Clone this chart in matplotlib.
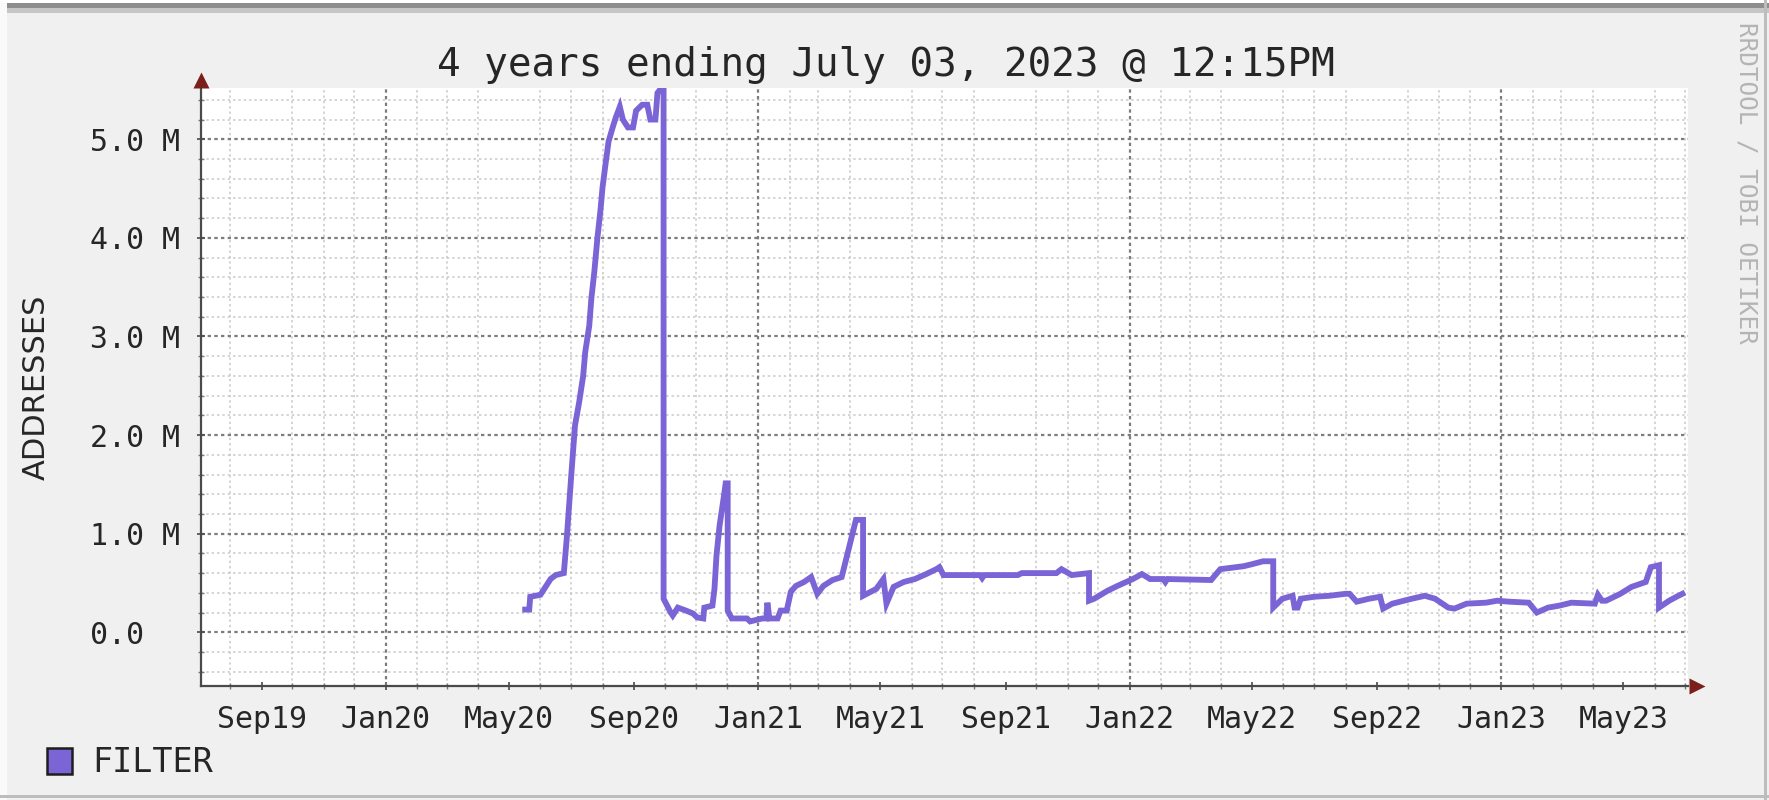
import matplotlib
matplotlib.use("Agg")
import matplotlib.pyplot as plt
import matplotlib.dates as mdates
from matplotlib.patches import Rectangle, Patch
from matplotlib.ticker import MultipleLocator, FixedLocator
import numpy as np

# FILTER series (millions of addresses)
dates = [
    "2020-05-17", "2020-05-21", "2020-05-22", "2020-06-01", "2020-06-06", "2020-06-11",
    "2020-06-16", "2020-06-24", "2020-06-27", "2020-07-01", "2020-07-05", "2020-07-09",
    "2020-07-13", "2020-07-15", "2020-07-19", "2020-07-21", "2020-07-24", "2020-07-27",
    "2020-07-30", "2020-08-01", "2020-08-04", "2020-08-07", "2020-08-11", "2020-08-14",
    "2020-08-18", "2020-08-21", "2020-08-26", "2020-08-31", "2020-09-03", "2020-09-09",
    "2020-09-14", "2020-09-17", "2020-09-22", "2020-09-24", "2020-09-27", "2020-09-30",
    "2020-09-30", "2020-10-02", "2020-10-07", "2020-10-09", "2020-10-14", "2020-10-22",
    "2020-10-29", "2020-11-02", "2020-11-08", "2020-11-09", "2020-11-17", "2020-11-19",
    "2020-11-21", "2020-11-24", "2020-11-28", "2020-11-30", "2020-12-02", "2020-12-02",
    "2020-12-06", "2020-12-21", "2020-12-24", "2021-01-05", "2021-01-09", "2021-01-10",
    "2021-01-12", "2021-01-20", "2021-01-23", "2021-01-29", "2021-02-02", "2021-02-07",
    "2021-02-15", "2021-02-22", "2021-02-28", "2021-03-06", "2021-03-15", "2021-03-24",
    "2021-03-30", "2021-04-07", "2021-04-14", "2021-04-14", "2021-04-27", "2021-05-04",
    "2021-05-07", "2021-05-14", "2021-05-24", "2021-06-04", "2021-06-15", "2021-06-25",
    "2021-06-28", "2021-07-02", "2021-08-07", "2021-08-09", "2021-08-11", "2021-09-13",
    "2021-09-17", "2021-10-21", "2021-10-26", "2021-11-05", "2021-11-22", "2021-11-22",
    "2021-11-27", "2021-12-10", "2021-12-20", "2022-01-04", "2022-01-13", "2022-01-21",
    "2022-02-03", "2022-02-05", "2022-02-07", "2022-03-22", "2022-03-31", "2022-04-15",
    "2022-04-23", "2022-05-01", "2022-05-12", "2022-05-22", "2022-05-22", "2022-05-31",
    "2022-06-10", "2022-06-12", "2022-06-15", "2022-06-18", "2022-07-01", "2022-07-16",
    "2022-08-01", "2022-08-05", "2022-08-12", "2022-08-24", "2022-09-04", "2022-09-07",
    "2022-09-16", "2022-10-05", "2022-10-18", "2022-10-28", "2022-11-10", "2022-11-16",
    "2022-11-28", "2022-12-17", "2022-12-28", "2023-01-09", "2023-01-28", "2023-02-05",
    "2023-02-16", "2023-02-27", "2023-03-11", "2023-04-03", "2023-04-06", "2023-04-10",
    "2023-04-14", "2023-04-28", "2023-05-09", "2023-05-23", "2023-05-28", "2023-06-05",
    "2023-06-05", "2023-06-15", "2023-06-24", "2023-06-28",
]
filter_m = [
    0.23, 0.23, 0.36, 0.38, 0.46, 0.54,
    0.58, 0.60, 0.97, 1.55, 2.10, 2.33,
    2.60, 2.84, 3.11, 3.38, 3.66, 4.00,
    4.28, 4.51, 4.75, 4.98, 5.12, 5.22,
    5.33, 5.20, 5.12, 5.12, 5.29, 5.35,
    5.35, 5.20, 5.20, 5.47, 5.51, 5.51,
    0.34, 0.30, 0.20, 0.17, 0.25, 0.22,
    0.19, 0.15, 0.14, 0.25, 0.27, 0.44,
    0.78, 1.08, 1.36, 1.51, 1.51, 0.22,
    0.14, 0.14, 0.11, 0.14, 0.14, 0.30,
    0.14, 0.14, 0.22, 0.22, 0.41, 0.47,
    0.51, 0.56, 0.39, 0.47, 0.53, 0.56,
    0.81, 1.14, 1.14, 0.37, 0.44, 0.54,
    0.29, 0.46, 0.51, 0.54, 0.59, 0.64,
    0.66, 0.58, 0.58, 0.55, 0.58, 0.58,
    0.60, 0.60, 0.64, 0.58, 0.60, 0.32,
    0.34, 0.42, 0.47, 0.54, 0.59, 0.54,
    0.54, 0.51, 0.54, 0.53, 0.64, 0.66,
    0.67, 0.69, 0.72, 0.72, 0.25, 0.34,
    0.37, 0.25, 0.25, 0.34, 0.36, 0.37,
    0.39, 0.39, 0.31, 0.34, 0.36, 0.24,
    0.29, 0.34, 0.37, 0.34, 0.25, 0.24,
    0.29, 0.30, 0.32, 0.31, 0.30, 0.20,
    0.25, 0.27, 0.30, 0.29, 0.38, 0.32,
    0.32, 0.39, 0.46, 0.51, 0.66, 0.68,
    0.25, 0.32, 0.37, 0.39,
]
y_ticks = [0, 1, 2, 3, 4, 5]
y_labels = ["0.0", "1.0 M", "2.0 M", "3.0 M", "4.0 M", "5.0 M"]
year_lines = ["2020-01-01", "2021-01-01", "2022-01-01", "2023-01-01"]
title = "4 years ending July 03, 2023 @ 12:15PM"
start = np.datetime64("2019-07-03T12:15")
end = np.datetime64("2023-07-03T12:15")

MONO = "DejaVu Sans Mono"
SANS = "DejaVu Sans"
W, H = 1769, 800
line_col = "#7b64d6"
txt_col = "#262626"

fig = plt.figure(figsize=(W / 100, H / 100), dpi=100)
fig.patch.set_facecolor("#f0f0f0")

# rrdtool-like frame
fig.patches.append(Rectangle((0, 1 - 3 / H), 1, 3 / H, transform=fig.transFigure, fc="#ffffff", ec="none"))
fig.patches.append(Rectangle((0, 1 - 8 / H), 1, 5 / H, transform=fig.transFigure, fc="#8e8e8e", ec="none"))
fig.patches.append(Rectangle((0, 1 - 13 / H), 1, 5 / H, transform=fig.transFigure, fc="#c6c6c6", ec="none"))
fig.patches.append(Rectangle((0, 0), 7 / W, 1 - 3 / H, transform=fig.transFigure, fc="#fafafa", ec="none"))
fig.patches.append(Rectangle((1764 / W, 0), 3 / W, 1, transform=fig.transFigure, fc="#bdbdbd", ec="none"))
fig.patches.append(Rectangle((0, 2 / H), 1, 3 / H, transform=fig.transFigure, fc="#bdbdbd", ec="none"))

ax_l, ax_r = 201 / W, 1688 / W
ax_b, ax_t = (H - 686) / H, (H - 88) / H
ax = fig.add_axes([ax_l, ax_b, ax_r - ax_l, ax_t - ax_b])
ax.set_facecolor("white")

x = np.array(dates, dtype="datetime64[D]")
ax.plot(x, filter_m, color=line_col, lw=4.2, solid_joinstyle="miter", zorder=5)

ax.set_xlim(start, end)
ax.set_ylim(-0.545, 5.52)

# x axis: monthly minor grid, labels every 4 months, dark lines on years
ax.xaxis.set_major_locator(mdates.MonthLocator(bymonth=[1, 5, 9]))
ax.xaxis.set_major_formatter(mdates.DateFormatter("%b%y"))
ax.xaxis.set_minor_locator(mdates.MonthLocator())
ax.yaxis.set_major_locator(FixedLocator(y_ticks))
ax.set_yticklabels(y_labels)
ax.yaxis.set_minor_locator(MultipleLocator(0.2))

minor_ls = (0, (1.5, 2.0))
major_ls = (0, (1.5, 1.5))
ax.grid(which="minor", axis="both", color="#c8c8c8", lw=1.1, ls=minor_ls)
ax.grid(which="major", axis="y", color="#7c7c7c", lw=1.6, ls=major_ls)
ax.grid(which="major", axis="x", visible=False)
for d in year_lines:
    ax.axvline(np.datetime64(d), color="#7c7c7c", lw=1.6, ls=major_ls, zorder=1)
ax.set_axisbelow(True)

for s in ["top", "right"]:
    ax.spines[s].set_visible(False)
for s in ["left", "bottom"]:
    ax.spines[s].set_color("#4a4a4a")
    ax.spines[s].set_linewidth(1.6)

ax.tick_params(axis="x", which="major", direction="inout", length=6, width=1.2,
               color="#4a4a4a", pad=11, labelsize=21.5, labelcolor=txt_col)
ax.tick_params(axis="x", which="minor", direction="inout", length=4, width=1.0, color="#7a7a7a")
ax.tick_params(axis="y", which="major", direction="inout", length=6, width=1.2,
               color="#4a4a4a", pad=77, labelsize=21.5, labelcolor=txt_col)
ax.tick_params(axis="y", which="minor", direction="inout", length=4, width=1.0, color="#7a7a7a")
for lbl in ax.get_xticklabels() + ax.get_yticklabels():
    lbl.set_family(MONO)
for lbl in ax.get_yticklabels():
    lbl.set_ha("left")

# axis arrows
ax.plot([1.006], [0], marker=">", ms=12, color="#7b1f1a", mec="none",
        transform=ax.transAxes, clip_on=False, zorder=6)
ax.plot([0], [1.013], marker="^", ms=12, color="#7b1f1a", mec="none",
        transform=ax.transAxes, clip_on=False, zorder=6)

fig.text(0.501, 1 - 65 / H, title, ha="center", va="center", fontsize=28.3,
         family=MONO, color=txt_col)
fig.text(36 / W, 0.516, "ADDRESSES", rotation=90, ha="center", va="center",
         fontsize=22, family=SANS, color=txt_col)
fig.text(1746 / W, 1 - 22 / H, "RRDTOOL / TOBI OETIKER", rotation=270, ha="center",
         va="top", fontsize=17.5, family=MONO, color="#b4b4b4")

fig.legend(handles=[Patch(fc=line_col, ec="#1e1e1e", lw=1.8, label="FILTER")],
           loc="center left", bbox_to_anchor=(47 / W, 37 / H), frameon=False,
           handlelength=0.75, handleheight=0.85, handletextpad=0.6, borderpad=0,
           borderaxespad=0, prop={"family": MONO, "size": 24}, labelcolor=txt_col)

fig.savefig("out.png", dpi=100, facecolor=fig.get_facecolor())
